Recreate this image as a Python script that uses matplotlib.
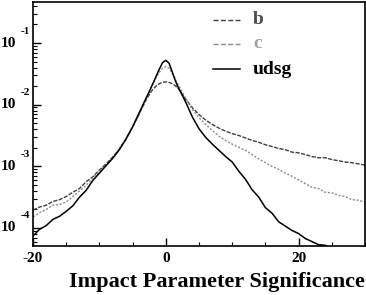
import numpy as np
import matplotlib
matplotlib.use("Agg")
import matplotlib.pyplot as plt
import matplotlib.transforms as mtransforms
from matplotlib.ticker import MultipleLocator, LogLocator, NullFormatter

# Impact parameter significance grid
x_vals = [-20, -19, -18, -17, -16, -15, -14, -13, -12, -11, -10, -9, -8, -7, -6, -5, -4, -3,
          -2.5, -2, -1.5, -1, -0.5, 0, 0.5, 1, 1.5, 2, 2.5,
          3, 4, 5, 6, 7, 8, 9, 10, 11, 12, 13, 14, 15, 16, 17, 18, 19, 20,
          21, 22, 23, 24, 25, 26, 27, 28, 29, 30]

# log10 of the normalised distributions
b_log = [-3.71, -3.66, -3.63, -3.57, -3.54, -3.49, -3.42, -3.36, -3.25, -3.17, -3.06, -2.96, -2.85, -2.72, -2.55, -2.36, -2.15, -1.93,
         -1.84, -1.76, -1.70, -1.66, -1.64, -1.63, -1.64, -1.66, -1.70, -1.75, -1.83,
         -1.91, -2.05, -2.16, -2.25, -2.32, -2.38, -2.43, -2.47, -2.50, -2.54, -2.58, -2.61, -2.65, -2.68, -2.71, -2.73, -2.77, -2.78,
         -2.81, -2.84, -2.86, -2.86, -2.89, -2.91, -2.93, -2.94, -2.96, -2.98]
c_log = [-3.82, -3.75, -3.70, -3.63, -3.62, -3.58, -3.49, -3.40, -3.31, -3.19, -3.08, -2.98, -2.87, -2.73, -2.56, -2.36, -2.14, -1.91,
         -1.80, -1.68, -1.57, -1.48, -1.41, -1.38, -1.41, -1.49, -1.60, -1.70, -1.80,
         -1.90, -2.08, -2.21, -2.32, -2.42, -2.51, -2.58, -2.64, -2.69, -2.74, -2.81, -2.88, -2.94, -3.00, -3.05, -3.11, -3.16, -3.22,
         -3.28, -3.34, -3.36, -3.42, -3.43, -3.47, -3.49, -3.54, -3.55, -3.58]
udsg_log = [-4.13, -4.02, -3.96, -3.86, -3.81, -3.73, -3.64, -3.50, -3.39, -3.23, -3.11, -2.99, -2.87, -2.73, -2.56, -2.36, -2.13, -1.90,
            -1.79, -1.67, -1.55, -1.43, -1.32, -1.28, -1.33, -1.48, -1.63, -1.75, -1.85,
            -1.96, -2.20, -2.39, -2.53, -2.64, -2.74, -2.84, -2.93, -3.08, -3.21, -3.38, -3.50, -3.67, -3.76, -3.90, -3.97, -4.04, -4.09,
            -4.17, -4.22, -4.27, -4.28, -4.36, -4.44, np.nan, np.nan, np.nan, np.nan]

labels = ["b", "c", "udsg"]
y_exponents = [-1, -2, -3, -4]
x_ticks = [-20, 0, 20]

serif = "Liberation Serif"

fig = plt.figure(figsize=(3.66, 2.95), dpi=100)
ax = fig.add_axes([33/366, 1 - 246/295, (365 - 33)/366, (246 - 2)/295])

x = np.array(x_vals, dtype=float)
styles = [dict(color="#404040", ls=(0, (3, 1)), lw=1.0),
          dict(color="#8c8c8c", ls=(0, (1.5, 1.2)), lw=1.0),
          dict(color="black", ls="-", lw=1.1)]
series = [b_log, c_log, udsg_log]
lines = []
for s, st in zip(series, styles):
    ln, = ax.plot(x, 10 ** np.array(s, dtype=float), **st)
    lines.append(ln)

ax.set_yscale("log")
ax.set_xlim(-20, 30)
ax.set_ylim(10 ** -4.292, 10 ** -0.335)

ax.xaxis.set_major_locator(MultipleLocator(20))
ax.xaxis.set_minor_locator(MultipleLocator(5))
ax.yaxis.set_major_locator(LogLocator(base=10))
ax.yaxis.set_minor_locator(LogLocator(base=10, subs=np.arange(2, 10)))
ax.yaxis.set_major_formatter(NullFormatter())
ax.yaxis.set_minor_formatter(NullFormatter())
ax.tick_params(which="both", direction="in", top=False, right=False)
ax.tick_params(which="major", length=6, width=1)
ax.tick_params(which="minor", length=3, width=0.8)
ax.set_xticks(x_ticks)
ax.set_xticklabels([str(t) for t in x_ticks], fontfamily=serif, fontweight="bold", fontsize=11)
ax.tick_params(axis="x", pad=4)
for sp in ax.spines.values():
    sp.set_linewidth(1.2)

# y tick labels as 10 with superscript exponent
trans = mtransforms.blended_transform_factory(fig.transFigure, ax.transData)
for e in y_exponents:
    ax.text(1/366, 10.0 ** e, "10", transform=trans, ha="left", va="center",
            fontfamily=serif, fontweight="bold", fontsize=11)
    off = mtransforms.offset_copy(trans, fig=fig, x=0, y=12, units="dots")
    ax.text(21/366, 10.0 ** e, str(e), transform=off, ha="left", va="center",
            fontfamily=serif, fontweight="bold", fontsize=8)

ax.set_xlabel("Impact Parameter Significance", fontfamily=serif, fontweight="bold",
              fontsize=16, loc="right", labelpad=5)

# legend
leg_y = [20, 44, 69]
text_colors = ["#4a4a4a", "#a0a0a0", "black"]
for ln, lab, yy, tc in zip(lines, labels, leg_y, text_colors):
    ax.plot([(213 - 33)/332, (240 - 33)/332], [1 - (yy - 2)/244] * 2, transform=ax.transAxes,
            color=ln.get_color(), ls=ln.get_linestyle(), lw=ln.get_linewidth())
    ax.text((253 - 33)/332, 1 - (yy - 2)/244, lab, transform=ax.transAxes, ha="left", va="center",
            fontfamily=serif, fontweight="bold", fontsize=14, color=tc)

fig.savefig("out.png", dpi=100)
